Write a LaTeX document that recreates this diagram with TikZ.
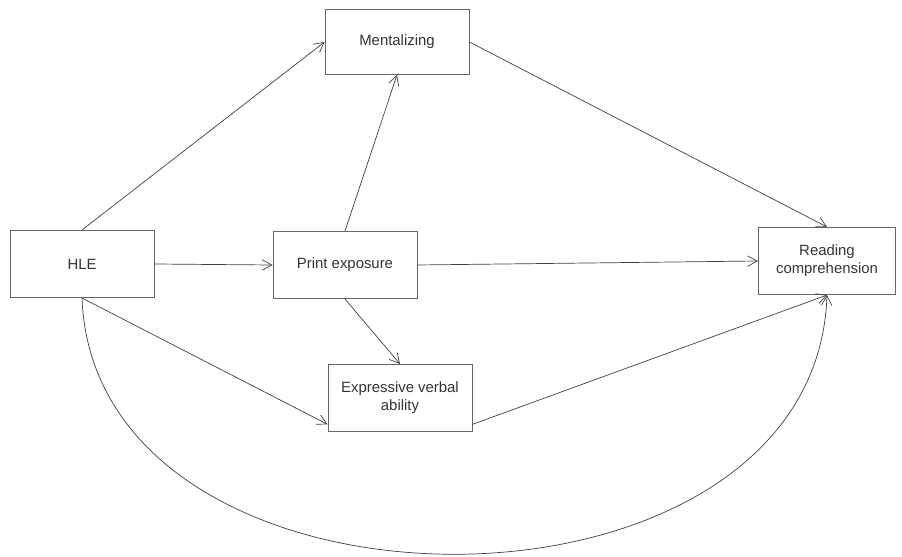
\documentclass[tikz,border=0pt]{standalone}
\usepackage{fontspec}
\setmainfont{Liberation Sans}
\usetikzlibrary{arrows.meta}

\begin{document}
\begin{tikzpicture}[x=0.025cm, y=-0.025cm,
  box/.style={draw=black!60, line width=0.6pt, minimum width=3.6cm, minimum height=1.68cm,
    align=center, font=\fontsize{10.6}{13}\selectfont, text=black!80, inner sep=1pt},
  arr/.style={draw=black!75, line width=0.5pt, -{Straight Barb[length=2.4mm, width=2.6mm]}}]
\useasboundingbox (0,0) rectangle (902,557);

\node[box, minimum height=1.62cm] (m) at (397, 42) {Mentalizing};
\node[box] (h) at (82, 264) {HLE};   \node[box] (p) at (345, 265) {Print exposure};
\node[box] (e) at (400, 398) {Expressive verbal\\ability};
\node[box, minimum width=3.43cm] (r) at (827, 261) {Reading\\comprehension};

\draw[arr] (h.north) to (m.west);
\draw[arr] (h.east) to (p.west);
\draw[arr] (p.north) to (m.south);
\draw[arr] (m.east) to (r.north);
\draw[arr] (p.east) to (r.west);
\draw[arr] (p.south) to (e.north);
\draw[arr] (h.south) to (e.200);
\draw[arr] (e.340) to (r.south);
\draw[arr] (h.south) .. controls (95, 640) and (815, 640) .. (r.south);
\end{tikzpicture}
\end{document}
